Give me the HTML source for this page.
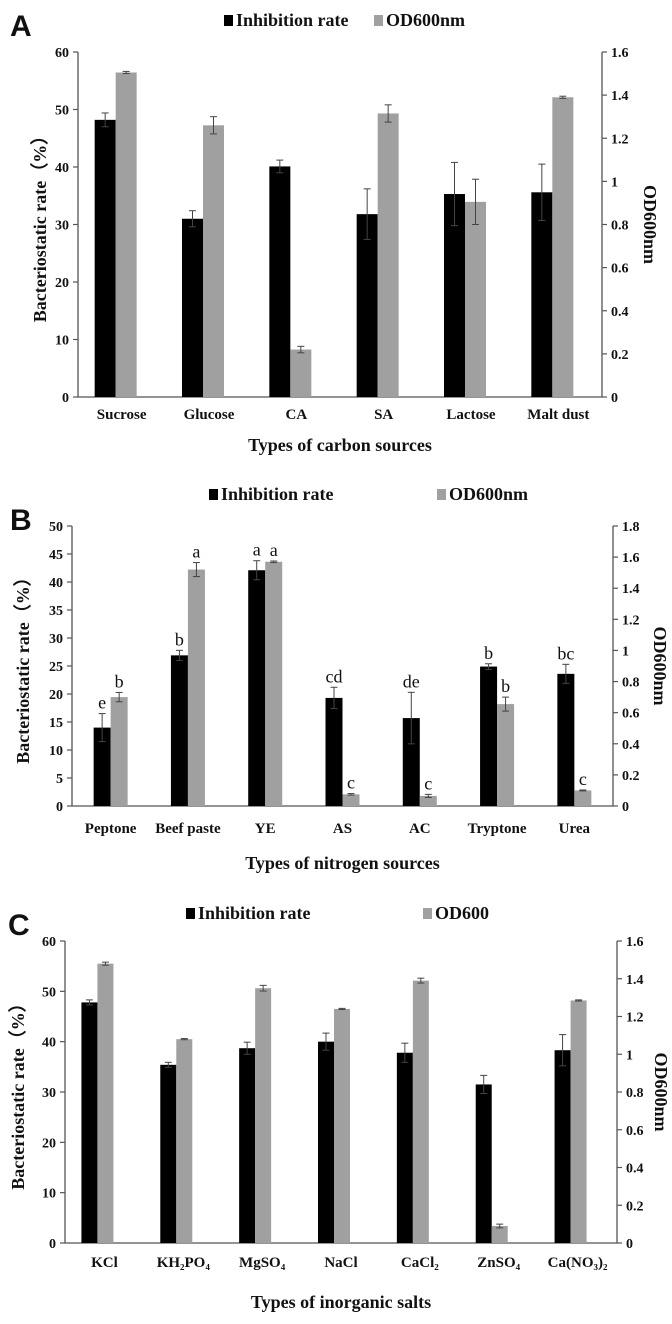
<!DOCTYPE html>
<html><head><meta charset="utf-8">
<style>
html,body{margin:0;padding:0;background:#fff;}
svg{display:block;}
text{font-family:"Liberation Serif",serif;font-weight:bold;fill:#111;}
text.nb{font-weight:normal;}
.pl{font-family:"Liberation Sans",sans-serif;font-weight:bold;font-size:30px;}
</style></head>
<body>
<svg id="chart" width="672" height="1324" viewBox="0 0 672 1324" xmlns="http://www.w3.org/2000/svg"></svg>
<script>
// Panel A data
const catsA = ["Sucrose","Glucose","CA","SA","Lactose","Malt dust"];
const inhibA = [48.2,31.0,40.1,31.8,35.3,35.6];
const inhibErrA = [1.2,1.4,1.1,4.4,5.5,4.9];
const odA = [1.505,1.26,0.22,1.315,0.905,1.39];
const odErrA = [0.005,0.04,0.015,0.04,0.105,0.005];
const leftTicksA = ["0","10","20","30","40","50","60"];
const rightTicksA = ["0","0.2","0.4","0.6","0.8","1","1.2","1.4","1.6"];
// Panel B data
const catsB = ["Peptone","Beef paste","YE","AS","AC","Tryptone","Urea"];
const inhibB = [14.0,26.9,42.1,19.3,15.7,24.9,23.6];
const inhibErrB = [2.5,0.9,1.7,1.9,4.6,0.5,1.7];
const odB = [0.70,1.52,1.57,0.075,0.065,0.655,0.10];
const odErrB = [0.03,0.045,0.005,0.005,0.01,0.045,0.003];
const inhibLetB = ["e","b","a","cd","de","b","bc"];
const odLetB = ["b","a","a","c","c","b","c"];
const leftTicksB = ["0","5","10","15","20","25","30","35","40","45","50"];
const rightTicksB = ["0","0.2","0.4","0.6","0.8","1","1.2","1.4","1.6","1.8"];
// Panel C data
const catsC = ["KCl","KH₂PO₄","MgSO₄","NaCl","CaCl₂","ZnSO₄","Ca(NO₃)₂"];
const inhibC = [47.8,35.4,38.7,40.0,37.8,31.5,38.3];
const inhibErrC = [0.5,0.5,1.2,1.7,1.9,1.8,3.1];
const odC = [1.48,1.08,1.35,1.24,1.39,0.09,1.285];
const odErrC = [0.008,0.003,0.015,0.003,0.013,0.01,0.003];
const leftTicksC = ["0","10","20","30","40","50","60"];
const rightTicksC = ["0","0.2","0.4","0.6","0.8","1","1.2","1.4","1.6"];

const svg = document.getElementById('chart');
const NS = "http://www.w3.org/2000/svg";
function mk(tag, attrs, parent){
  const e = document.createElementNS(NS, tag);
  for (const k in attrs) e.setAttribute(k, attrs[k]);
  (parent||svg).appendChild(e);
  return e;
}
function txt(x,y,s,size,anchor,parent,extra){
  const t = mk('text',Object.assign({x:x,y:y,'font-size':size,'text-anchor':anchor||'middle'},extra||{}),parent);
  t.textContent = s;
  return t;
}

function panel(cfg){
  const g = mk('g',{});
  
  
  const {L,R,T,B,lmax,rmax} = cfg;
  const yl = v => B - v/lmax*(B-T);
  const yr = v => B - v/rmax*(B-T);
  const n = cfg.cats.length;
  const slot = (R-L)/n;
  const xc = i => L + slot*(i+0.5) + cfg.off;
  const ax = mk('path',{d:`M${L},${T}V${B}H${R}V${T}`,fill:'none',stroke:'#555','stroke-width':1.3},g);
  
  
  cfg.lt.forEach((s,i)=>{
    const v = parseFloat(s), y = yl(v);
    mk('line',{x1:L-5,x2:L,y1:y,y2:y,stroke:'#555','stroke-width':1.2},g);
    const t = txt(L-9,y+5,s,14,'end',g);
    
    
  });
  cfg.rt.forEach((s,i)=>{
    const v = parseFloat(s), y = yr(v);
    mk('line',{x1:R,x2:R+5,y1:y,y2:y,stroke:'#555','stroke-width':1.2},g);
    const t = txt(R+9,y+5,s,14,'start',g);
    
    
  });
  const bw = cfg.bw;
  function err(x,y1,y2){
    mk('line',{x1:x,x2:x,y1:y1,y2:y2,stroke:'#444','stroke-width':1},g);
    mk('line',{x1:x-3.5,x2:x+3.5,y1:y1,y2:y1,stroke:'#444','stroke-width':1},g);
    mk('line',{x1:x-3.5,x2:x+3.5,y1:y2,y2:y2,stroke:'#444','stroke-width':1},g);
  }
  cfg.cats.forEach((c,i)=>{
    const cx = xc(i);
    const v1 = cfg.inh[i], e1 = cfg.inhE[i];
    const b1 = mk('rect',{x:cx-bw,y:yl(v1),width:bw,height:B-yl(v1),fill:'#000'},g);
    
    
    err(cx-bw/2,yl(v1+e1),yl(v1-e1));
    const v2 = cfg.od[i], e2 = cfg.odE[i];
    const b2 = mk('rect',{x:cx,y:yr(v2),width:bw,height:B-yr(v2),fill:'#a0a0a0'},g);
    
    
    err(cx+bw/2,yr(v2+e2),yr(v2-e2));
    if (cfg.il){
      const t1 = txt(cx-bw/2,yl(v1+e1)-5,cfg.il[i],18,'middle',g,{'class':'nb'});
      
      
      const t2 = txt(cx+bw/2,yr(v2+e2)-5,cfg.ol[i],18,'middle',g,{'class':'nb'});
      
      
    }
    const ct = txt(L + slot*(i+0.5),cfg.catY,c,15,'middle',g);
    
    
  });
  const xt = txt((L+R)/2,cfg.xtY,cfg.xt,18,'middle',g);
  
  
  const ym = (T+B)/2;
  const yt = txt(0,0,'Bacteriostatic rate（%）',18,'middle',g,{transform:`translate(${cfg.ytX},${ym}) rotate(-90)`,'font-family':'"Liberation Serif","Noto Serif CJK SC",serif'});
  
  
  const rt = txt(0,0,'OD600nm',18,'middle',g,{transform:`translate(${cfg.rtX},${ym}) rotate(90)`});
  
  
  const lg = mk('g',{},g);
  
  
  mk('rect',{x:cfg.lg1,y:cfg.lgY-11,width:9,height:11,fill:'#000'},lg);
  txt(cfg.lg1+12,cfg.lgY,'Inhibition rate',18,'start',lg);
  mk('rect',{x:cfg.lg2,y:cfg.lgY-11,width:9,height:11,fill:'#a0a0a0'},lg);
  txt(cfg.lg2+12,cfg.lgY,cfg.lg2t,18,'start',lg);
  const pl = txt(cfg.plX,cfg.plY,cfg.pl,30,'start',g,{'class':'pl'});
  
  
}

panel({name:'panel-a-carbon-sources',L:78,R:602,T:52,B:397,lmax:60,rmax:1.6,off:-6,bw:21,
  cats:catsA,inh:inhibA,inhE:inhibErrA,od:odA,odE:odErrA,lt:leftTicksA,rt:rightTicksA,
  catY:419,xtY:451,xt:'Types of carbon sources',ytX:46,rtX:644,lgY:26,lg1:224,lg2:374,lg2t:'OD600nm',pl:'A',plX:10,plY:36});
panel({name:'panel-b-nitrogen-sources',L:72,R:613,T:526,B:806,lmax:50,rmax:1.8,off:0,bw:17,
  cats:catsB,inh:inhibB,inhE:inhibErrB,od:odB,odE:odErrB,lt:leftTicksB,rt:rightTicksB,
  il:inhibLetB,ol:odLetB,catY:833,xtY:869,xt:'Types of nitrogen sources',ytX:29,rtX:654,lgY:500,lg1:209,lg2:437,lg2t:'OD600nm',pl:'B',plX:10,plY:530});
panel({name:'panel-c-inorganic-salts',L:65,R:617,T:941,B:1243,lmax:60,rmax:1.6,off:-7,bw:16,
  cats:catsC,inh:inhibC,inhE:inhibErrC,od:odC,odE:odErrC,lt:leftTicksC,rt:rightTicksC,
  catY:1267,xtY:1308,xt:'Types of inorganic salts',ytX:24,rtX:655,lgY:919,lg1:186,lg2:423,lg2t:'OD600',pl:'C',plX:8,plY:935});
</script>
</body></html>
